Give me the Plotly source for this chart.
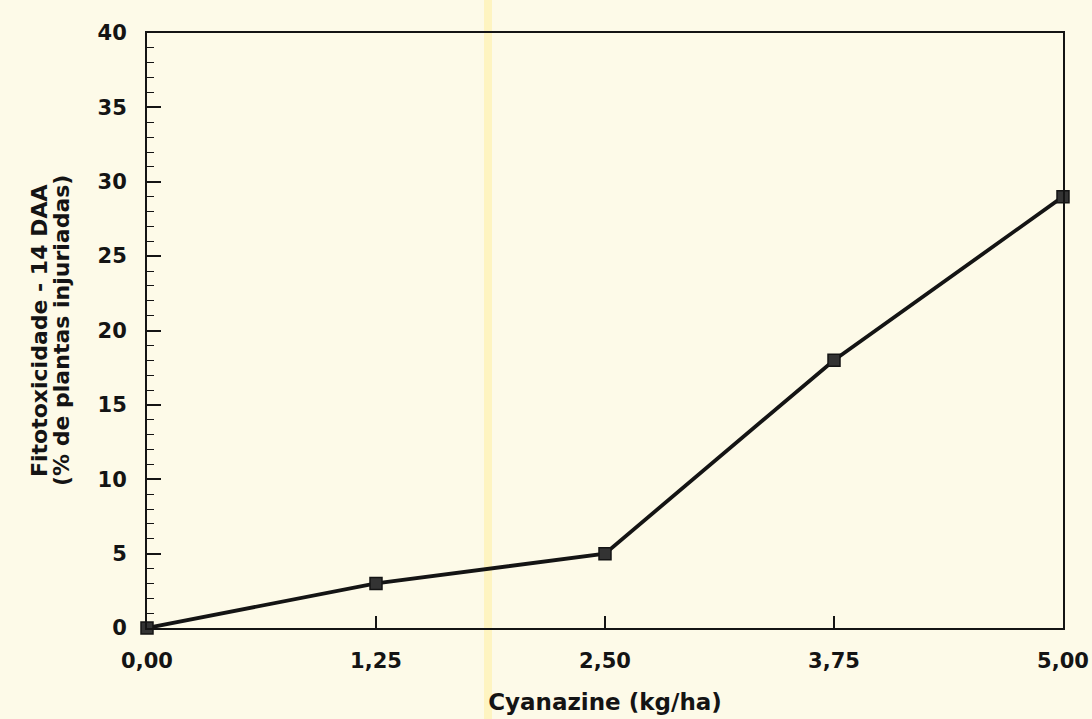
import plotly.graph_objects as go

doses = [0.0, 1.25, 2.50, 3.75, 5.00]
dose_labels = ["0,00", "1,25", "2,50", "3,75", "5,00"]
fitotox = [0.0, 3.0, 5.0, 18.0, 29.0]
y_ticks = [0, 5, 10, 15, 20, 25, 30, 35, 40]
y_title_lines = ["Fitotoxicidade - 14 DAA", "(% de plantas injuriadas)"]
x_title = "Cyanazine (kg/ha)"

FONT = "DejaVu Sans, Liberation Sans, Arial, sans-serif"
BG = "#FDFAE8"
INK = "#141414"

L, R, T, B = 147, 29, 33, 91
W, H = 1092, 719
PW, PH = W - L - R, H - T - B

fig = go.Figure()
fig.add_trace(go.Scatter(
    x=doses, y=fitotox, mode="lines+markers",
    line=dict(color=INK, width=3.8),
    marker=dict(symbol="square", size=12, color="#333333",
                line=dict(color=INK, width=1.5)),
    cliponaxis=False, showlegend=False,
))

annotations = []
for i, txt in enumerate(y_title_lines):
    cx = [39, 61][i]
    annotations.append(dict(
        text=f"<b>{txt}</b>", textangle=-90, showarrow=False,
        xref="paper", yref="paper",
        x=(cx - L) / PW, y=(H - B - 331) / PH,
        xanchor="center", yanchor="middle",
        font=dict(family=FONT, size=22, color=INK),
    ))

fig.update_layout(
    width=W, height=H,
    margin=dict(l=L, r=R, t=T, b=B, autoexpand=False),
    paper_bgcolor=BG, plot_bgcolor=BG,
    font=dict(family=FONT, color=INK),
    annotations=annotations,
    shapes=[dict(type="rect", xref="paper", yref="paper",
                 x0=(484 - L) / PW, x1=(492 - L) / PW,
                 y0=-B / PH, y1=1 + T / PH,
                 fillcolor="rgba(255,232,120,0.35)", line=dict(width=0),
                 layer="below")],
)

fig.update_xaxes(
    range=[0, 5], tickvals=doses, ticktext=dose_labels, automargin=False,
    ticks="inside", ticklen=12, tickwidth=1.5, tickcolor=INK,
    showline=True, linecolor=INK, linewidth=2, mirror=True,
    showgrid=False, zeroline=False,
    tickfont=dict(family=FONT, size=21, color=INK, weight="bold"),
    ticklabelstandoff=13,
    title=dict(text=f"<b>{x_title}</b>", font=dict(family=FONT, size=23, color=INK),
               standoff=22),
)
fig.update_yaxes(
    range=[0, 40], tickvals=y_ticks, automargin=False,
    ticks="inside", ticklen=14, tickwidth=1.5, tickcolor=INK,
    minor=dict(dtick=1, ticks="inside", ticklen=7, tickwidth=1.2, tickcolor=INK),
    showline=True, linecolor=INK, linewidth=2, mirror=True,
    showgrid=False, zeroline=False,
    tickfont=dict(family=FONT, size=21, color=INK, weight="bold"),
    ticklabelstandoff=14,
)

fig.write_html(
    "out.html",
    config={"displayModeBar": False},
    post_script="document.body.style.margin='0';document.body.style.background='" + BG + "';",
)
